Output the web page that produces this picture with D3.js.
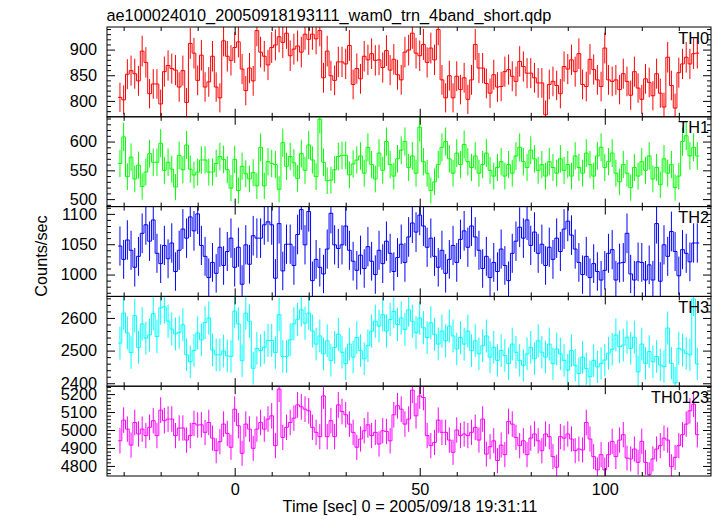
<!DOCTYPE html>
<html><head><meta charset="utf-8">
<script src="https://cdn.jsdelivr.net/npm/d3@7"></script>
<style>
body{margin:0;background:#fff}
svg{display:block}
text{font-family:"Liberation Sans",Arial,Helvetica,sans-serif;fill:#000}
</style>
</head><body>
<svg id="chart" width="717" height="516"></svg>
<script>
// ---------- data ----------
const titleText = "ae100024010_20050918193111_wam0_trn_4band_short.qdp";
const xLabelText = "Time [sec] 0 = 2005/09/18 19:31:11";
const yLabelText = "Counts/sec";
const firstBinTime = -31;   // centre of first 1-s bin
const binWidth = 1;
const panelNames = ["TH0", "TH1", "TH2", "TH3", "TH0123"];
const xRange = [-34.5, 128.7];
const xMajorTicks = [0, 50, 100];
const xMinorTicks = [-30, -20, -10, 10, 20, 30, 40, 60, 70, 80, 90, 110, 120];

const th0Rates = [
 807, 802, 852, 859, 853, 839, 897, 875, 814, 833,
 833, 794, 857, 869, 863, 860, 827, 859, 797, 912,
 893, 840, 889, 827, 837, 887, 827, 806, 917, 887,
 879, 904, 915, 862, 820, 864, 839, 937, 895, 887,
 870, 904, 909, 925, 914, 932, 888, 901, 907, 895,
 930, 920, 930, 921, 937, 845, 897, 849, 840, 876,
 876, 872, 908, 832, 863,
 843, 887, 880, 892, 879, 880, 865, 898, 860, 881,
 851, 841, 895, 899, 932, 893, 888, 910, 875, 903,
 880, 939, 841, 806, 849, 806, 848, 822, 845, 803,
 841, 910, 864, 864, 834, 815, 851, 827, 828, 857,
 861, 848, 838, 877, 867, 854, 854, 845, 835, 835,
 773, 832, 838, 830, 814, 867, 862, 880, 857, 892,
 832, 828, 881, 861, 841, 828, 903, 841, 838, 841,
 822, 853, 838, 811, 857, 825, 803, 843, 836, 810,
 853, 815, 788, 885, 830, 786, 855, 872, 885, 872,
 892, 893
];
const th1Rates = [
 562, 608, 539, 573, 535, 559, 522, 547, 579, 564,
 564, 597, 550, 564, 552, 521, 576, 551, 594, 552,
 542, 547, 568, 568, 547, 547, 562, 574, 569, 551,
 519, 569, 515, 557, 544, 535, 546, 523, 590, 523,
 565, 562, 560, 517, 598, 557, 574, 563, 536, 579,
 550, 594, 568, 539, 639, 564, 532, 533, 551, 574,
 576, 576, 542, 561, 568,
 575, 545, 590, 560, 535, 580, 550, 600, 560, 540,
 570, 585, 600, 555, 575, 545, 625, 565, 545, 515,
 530, 560, 590, 600, 570, 545, 580, 560, 595, 565,
 555, 575, 545, 560, 580, 550, 540, 555, 565, 540,
 560, 545, 575, 590, 565, 555, 585, 570, 550, 560,
 540, 565, 555, 545, 570, 550, 560, 540, 575, 555,
 545, 580, 560, 540, 575, 590, 555, 565, 580, 545,
 530, 560, 545, 520, 555, 540, 565, 550, 575, 535,
 555, 525, 570, 545, 560, 520, 540, 600, 610, 575,
 590, 575
];
const th2Rates = [
 1047, 1025, 1057, 1040, 1012, 1030, 1068, 1082, 1055, 1090,
 1035, 1018, 1048, 1026, 1052, 1005, 1040, 1075, 1060, 1095,
 1072, 1100, 1048, 1030, 995, 1020, 1002, 1045, 1015, 1038,
 1060, 1012, 1045,
 984, 1049, 1017, 1064, 1060, 1060, 1082, 1087, 1082, 994,
 1084, 1006, 1050, 1050, 1015, 1066, 1107, 1049, 1104, 990,
 1025, 1012, 1001, 1042, 1101, 1049, 1043, 1049, 1080, 1040,
 1022, 1007,
 1032, 1010, 1046, 1022, 1000, 1040, 1018, 1055, 1035, 1005,
 1028, 1050, 1020, 1062, 1085, 1070, 1098, 1080, 1045, 1060,
 1030, 1012, 1040, 1002, 1025, 1048, 1020, 1058, 1072, 1045,
 1080, 1062, 1040, 1010, 1030, 995, 1020, 1005, 1042, 1015,
 990, 1035, 1055, 1078, 1060, 1090, 1048, 1070, 1035, 1050,
 1015, 1045, 1025, 1060, 1038, 1075, 1088, 1065, 1042, 1020,
 1000, 1030, 995, 1018, 1005,
 991, 1007, 1035, 1041, 991, 1019, 1020, 1068, 1001, 991,
 1021, 1020, 991, 1016, 991, 1084, 989, 1049, 1030, 1071,
 1038, 998, 1041, 1035, 1021, 1052, 1052
];
const th3Rates = [
 2523, 2615, 2554, 2494, 2607, 2510, 2582, 2538, 2548, 2613,
 2543, 2631, 2634, 2590, 2566, 2551, 2556, 2579, 2487, 2466,
 2500, 2554, 2533, 2586, 2600, 2502, 2487, 2487, 2499, 2484,
 2482, 2621, 2582, 2469, 2615, 2590, 2446, 2507, 2500, 2510,
 2531, 2531, 2494, 2610, 2482, 2482, 2533, 2582, 2596, 2625,
 2584, 2615,
 2560, 2520, 2545, 2490, 2530, 2470, 2510, 2550, 2495, 2460,
 2520, 2480, 2540, 2500, 2475, 2515, 2560, 2590, 2575, 2610,
 2560, 2595, 2620, 2580, 2600, 2565, 2625, 2590, 2555, 2600,
 2570, 2540, 2585, 2550, 2520, 2560, 2530, 2575, 2545, 2505,
 2540, 2520, 2560, 2500, 2530, 2490, 2515, 2545, 2480, 2510,
 2470, 2500, 2485, 2460, 2520, 2495, 2470, 2455, 2490, 2510,
 2475, 2530, 2495, 2480, 2520, 2460, 2505, 2490, 2470, 2440,
 2500, 2455, 2430, 2480, 2445, 2420, 2470, 2450,
 2461, 2471, 2492, 2504, 2548, 2512, 2517, 2541, 2507, 2541,
 2435, 2520, 2461, 2497, 2466, 2482, 2456, 2451, 2569, 2461,
 2401, 2507, 2502, 2492, 2487, 2658, 2459
];
const th0123Rates = [
 4940, 5055, 5005, 4916, 5042, 4978, 5005, 4969, 5015, 5052,
 4969, 5111, 5052, 5061, 5061, 4969, 5011, 5011, 4944, 4969,
 5037, 5028, 5029, 4987, 5042, 4955, 4885, 4935, 5033, 4981,
 4904, 5116, 5024, 4870, 5033, 5005, 4898, 5005, 5042, 5005,
 5061, 5079, 4913, 5228, 4959, 5015, 5042, 5066, 5140, 5129,
 5116, 5107, 5015, 4987, 4963, 5190, 4963, 5052, 4963, 5140,
 5103, 5085, 5033, 4987, 4904, 4950, 4996, 5029, 4969, 4987,
 4922, 4996, 4992, 4940, 5085, 5135, 5116, 5033, 5061,
 5222, 5079, 5190, 5181, 4969, 4913, 4931, 5055, 4987, 4987,
 4944, 4876, 5000, 4969, 4978, 4969, 4987, 5015, 4944, 5061,
 4866, 4907, 4940, 4830, 4916, 4863, 5048, 5033, 4959,
 4913, 4940, 4863, 4955, 4978, 4940, 4885, 4978, 4963, 4852,
 4793, 4963, 4955, 4978, 4950, 4885, 4894, 4889, 5042, 4950,
 4852, 4778, 4863, 4778, 4863, 4937, 4852, 4944, 4974, 4844,
 4839, 4894, 4820, 4937, 4820, 4752, 4839, 4894, 4913, 4955,
 4944, 4796, 4848, 4913, 4974, 5033, 5107, 5144, 4974
];
const panelRates = [th0Rates, th1Rates, th2Rates, th3Rates, th0123Rates];
const panelColors = ["#ff0000", "#00ff00", "#0000ff", "#00ffff", "#ff00ff"];
const yDomains = [[769, 944], [487, 643], [964, 1112], [2391, 2666], [4744, 5244]];
const yMajorTicks = [[800, 850, 900], [500, 550, 600], [1000, 1050, 1100], [2400, 2500, 2600], [4800, 4900, 5000, 5100, 5200]];
const yMinorStep = [10, 10, 10, 20, 20];

(function draw() {
  const plotL = 107, plotR = 711, plotT = 27, plotB = 476;
  const nP = panelNames.length;
  const ph = (plotB - plotT) / nP;
  const svg = d3.select("#chart");
  const x = d3.scaleLinear().domain(xRange).range([plotL, plotR]);
  const fontFam = '"Liberation Sans",Arial,Helvetica,sans-serif';
  const fs = 16.3;

  svg.append("text").attr("x", 106.5).attr("y", 20.5)
    .attr("font-size", fs).text(titleText);

  panelNames.forEach((name, p) => {
    const rates = panelRates[p];
    const y0 = plotT + p * ph, y1 = y0 + ph;
    const y = d3.scaleLinear().domain(yDomains[p]).range([y1, y0]);
    const g = svg.append("g");
    const clipId = "clip" + p;
    svg.append("clipPath").attr("id", clipId).append("rect")
      .attr("x", plotL).attr("y", y0).attr("width", plotR - plotL).attr("height", ph);

    const data = rates.map((v, i) => ({t: firstBinTime + i * binWidth, v, e: Math.sqrt(v / binWidth)}));
    const dg = g.append("g").attr("clip-path", `url(#${clipId})`);
    dg.selectAll("line.err").data(data).join("line").attr("class", "err")
      .attr("x1", d => x(d.t)).attr("x2", d => x(d.t))
      .attr("y1", d => y(d.v - d.e)).attr("y2", d => y(d.v + d.e))
      .attr("stroke", panelColors[p]).attr("stroke-width", 1);
    const pts = data.map(d => [d.t - binWidth / 2, d.v]);
    const last = data[data.length - 1];
    pts.push([last.t + binWidth / 2, last.v]);
    const line = d3.line().x(d => x(d[0])).y(d => y(d[1])).curve(d3.curveStepAfter);
    dg.append("path").attr("d", line(pts)).attr("fill", "none")
      .attr("stroke", panelColors[p]).attr("stroke-width", 1);

    const [lo, hi] = yDomains[p];
    const minor = d3.range(Math.ceil(lo / yMinorStep[p]) * yMinorStep[p], hi, yMinorStep[p])
      .filter(v => !yMajorTicks[p].includes(v));
    const axes = [];
    axes.push(g.append("g").attr("transform", `translate(${plotL},0)`)
      .call(d3.axisLeft(y).tickValues(yMajorTicks[p]).tickSize(-8).tickPadding(10).tickFormat(d3.format("d"))));
    axes.push(g.append("g").attr("transform", `translate(${plotL},0)`)
      .call(d3.axisLeft(y).tickValues(minor).tickSize(-4).tickFormat("")));
    axes.push(g.append("g").attr("transform", `translate(${plotR},0)`)
      .call(d3.axisRight(y).tickValues(yMajorTicks[p]).tickSize(-8).tickFormat("")));
    axes.push(g.append("g").attr("transform", `translate(${plotR},0)`)
      .call(d3.axisRight(y).tickValues(minor).tickSize(-4).tickFormat("")));
    axes.push(g.append("g").attr("transform", `translate(0,${y0})`)
      .call(d3.axisTop(x).tickValues(xMajorTicks).tickSize(-8).tickFormat("")));
    axes.push(g.append("g").attr("transform", `translate(0,${y0})`)
      .call(d3.axisTop(x).tickValues(xMinorTicks).tickSize(-4).tickFormat("")));
    axes.push(g.append("g").attr("transform", `translate(0,${y1})`)
      .call(d3.axisBottom(x).tickValues(xMajorTicks).tickSize(-8).tickPadding(7)
        .tickFormat(p === nP - 1 ? d3.format("d") : "")));
    axes.push(g.append("g").attr("transform", `translate(0,${y1})`)
      .call(d3.axisBottom(x).tickValues(xMinorTicks).tickSize(-4).tickFormat("")));
    axes.forEach(a => {
      a.select(".domain").remove();
      a.selectAll("line").attr("stroke", "#000");
      a.selectAll("text").attr("font-size", fs).attr("font-family", fontFam).attr("fill", "#000");
    });

    g.append("rect").attr("x", plotL).attr("y", y0).attr("width", plotR - plotL).attr("height", ph)
      .attr("fill", "none").attr("stroke", "#000").attr("stroke-width", 1);

    g.append("text").attr("x", 709).attr("y", y0 + 16.5).attr("text-anchor", "end")
      .attr("font-size", fs).text(name);
  });

  svg.append("text").attr("x", (plotL + plotR) / 2 + 1).attr("y", 511.5)
    .attr("text-anchor", "middle").attr("font-size", fs).text(xLabelText);
  svg.append("text").attr("transform", "translate(47,256) rotate(-90)")
    .attr("text-anchor", "middle").attr("font-size", fs).text(yLabelText);
})();
</script>
</body></html>
